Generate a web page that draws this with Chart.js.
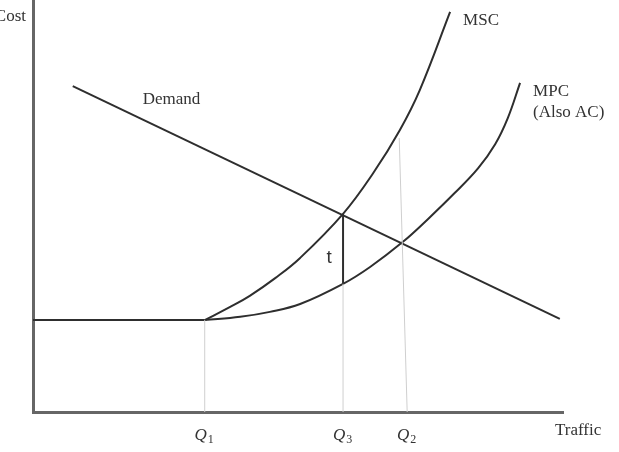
<!DOCTYPE html>
<html>
<head>
<meta charset="utf-8">
<script src="https://cdn.jsdelivr.net/npm/chart.js@4/dist/chart.umd.min.js"></script>
<style>
  html, body { margin: 0; padding: 0; background: #fff; }
  canvas { display: block; }
</style>
</head>
<body>
<canvas id="c" width="619" height="452"></canvas>
<script>
// Units: Traffic 0..100 (x), Cost 0..100 (y)
const flatX = [0, 32.4];
const flatY = [22.3, 22.3];
const mscX = [32.4, 37.2, 40.9, 45.7, 50.4, 58.5, 64.2, 69.2, 73.0, 78.7];
const mscY = [22.3, 25.5, 28.2, 32.5, 37.4, 48.1, 58.0, 68.4, 78.2, 97.1];
const mpcX = [32.4, 39.1, 44.7, 50.4, 58.5, 63.6, 69.8, 74.5, 79.6, 84.0, 87.2, 89.6, 91.9];
const mpcY = [22.3, 23.1, 24.3, 26.2, 31.1, 35.2, 41.3, 46.8, 53.2, 59.2, 65.0, 71.4, 79.9];
const demandX = [7.5, 99.4];
const demandY = [79.1, 22.6];
const taxX = [58.5, 58.5];
const taxY = [31.1, 48.1];
const q1X = [32.4, 32.4];
const q1Y = [0, 22.3];
const q3X = [58.5, 58.5];
const q3Y = [0, 31.1];
const q2X = [70.6, 69.1];
const q2Y = [0, 66.5];
const tickValues = [32.4, 58.5, 70.6];
const tickLabels = ['Q1', 'Q3', 'Q2'];

const pts = (xs, ys) => xs.map((x, i) => ({ x: x, y: ys[i] }));

function ds(xs, ys, color, width, smooth) {
  return {
    data: pts(xs, ys),
    borderColor: color,
    borderWidth: width,
    pointRadius: 0,
    showLine: true,
    fill: false,
    tension: smooth ? 0.4 : 0
  };
}

const curve = '#2e2e2e';
const guide = '#cfcfcf';

const labelPlugin = {
  id: 'labels',
  afterDatasetsDraw(chart) {
    const ctx = chart.ctx;
    const xs = chart.scales.x, ys = chart.scales.y;
    const px = v => xs.getPixelForValue(v);
    const py = v => ys.getPixelForValue(v);
    ctx.save();
    ctx.fillStyle = '#333';
    ctx.textBaseline = 'middle';
    const serif = '17px "Liberation Serif", "DejaVu Serif", serif';
    ctx.font = serif;

    ctx.textAlign = 'right';
    ctx.fillText('Cost', xs.left - 7, ys.top + 17);

    ctx.textAlign = 'left';
    const mL = mscX.length - 1;
    ctx.fillText('MSC', px(mscX[mL]) + 13, py(mscY[mL]) + 9);
    const pL = mpcX.length - 1;
    ctx.fillText('MPC', px(mpcX[pL]) + 13, py(mpcY[pL]) + 9);
    ctx.fillText('(Also AC)', px(mpcX[pL]) + 13, py(mpcY[pL]) + 30);
    ctx.fillText('Demand', px(demandX[0]) + 70, py(demandY[0]) + 13);
    ctx.fillText('Traffic', xs.right - 8, ys.bottom + 19);

    ctx.font = '19px "Liberation Sans", Arial, sans-serif';
    ctx.textAlign = 'center';
    ctx.fillText('t', px(taxX[0]) - 14, (py(taxY[0]) + py(taxY[1])) / 2 + 9);

    // Q tick labels
    ctx.textBaseline = 'alphabetic';
    tickValues.forEach((v, i) => {
      const lab = tickLabels[i];
      const main = lab.charAt(0), sub = lab.slice(1);
      ctx.font = 'italic 17px "Liberation Serif", "DejaVu Serif", serif';
      const w1 = ctx.measureText(main).width;
      ctx.font = '12px "Liberation Serif", "DejaVu Serif", serif';
      const w2 = ctx.measureText(sub).width;
      const x0 = px(v) - (w1 + w2) / 2 - 1;
      const base = ys.bottom + 28;
      ctx.textAlign = 'left';
      ctx.font = 'italic 17px "Liberation Serif", "DejaVu Serif", serif';
      ctx.fillText(main, x0, base);
      ctx.font = '12px "Liberation Serif", "DejaVu Serif", serif';
      ctx.fillText(sub, x0 + w1 + 1, base + 3);
    });
    ctx.restore();
  }
};

new Chart(document.getElementById('c'), {
  type: 'scatter',
  data: {
    datasets: [
      ds(q1X, q1Y, guide, 1, false),
      ds(q3X, q3Y, guide, 1, false),
      ds(q2X, q2Y, guide, 1, false),
      ds(flatX, flatY, curve, 2, false),
      ds(mscX, mscY, curve, 2, true),
      ds(mpcX, mpcY, curve, 2, true),
      ds(demandX, demandY, curve, 2, false),
      ds(taxX, taxY, curve, 2, false)
    ]
  },
  options: {
    responsive: false,
    animation: false,
    layout: { padding: { left: 33, right: 56, top: 0, bottom: 40 } },
    plugins: { legend: { display: false }, tooltip: { enabled: false } },
    scales: {
      x: {
        type: 'linear', min: 0, max: 100,
        grid: { display: false, drawTicks: false },
        ticks: { display: false },
        border: { display: true, color: '#666', width: 3 }
      },
      y: {
        type: 'linear', min: 0, max: 100,
        grid: { display: false, drawTicks: false },
        ticks: { display: false },
        border: { display: true, color: '#666', width: 3 }
      }
    }
  },
  plugins: [labelPlugin]
});
</script>
</body>
</html>
